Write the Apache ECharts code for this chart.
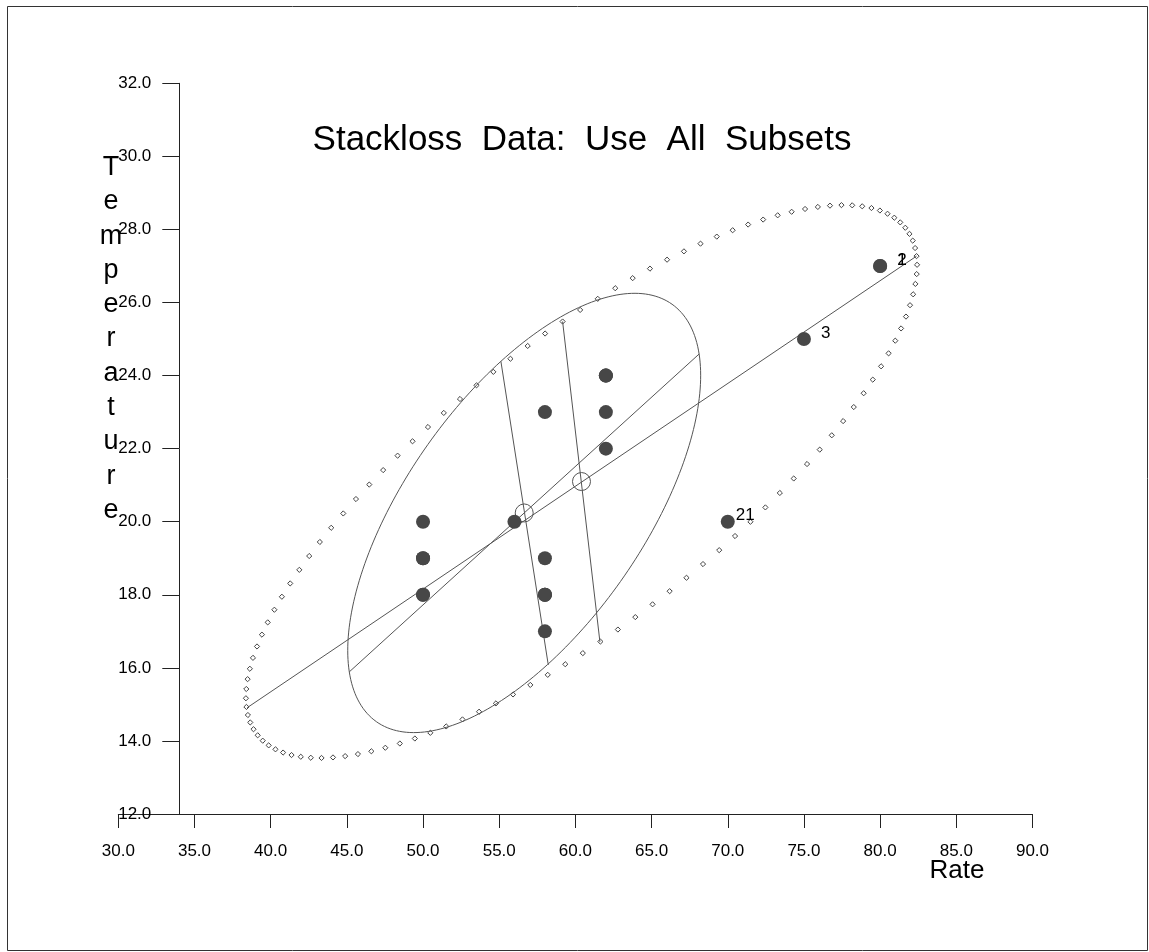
<!DOCTYPE html>
<html>
<head>
<meta charset="utf-8">
<script src="https://cdn.jsdelivr.net/npm/echarts@6/dist/echarts.min.js"></script>
<style>
  html, body { margin: 0; padding: 0; background: #fff; }
  #chart { width: 1149px; height: 952px; }
</style>
</head>
<body>
<div id="chart"></div>
<script>
// stackloss observations (Rate = air flow, Temperature = water temp)
const rate = [80, 80, 75, 62, 62, 62, 62, 62, 58, 58, 58, 58, 58, 58, 50, 50, 50, 50, 50, 56, 70];
const temperature = [27, 27, 25, 24, 22, 23, 24, 24, 23, 18, 18, 17, 18, 19, 18, 18, 19, 19, 20, 20, 20];
const obsLabels = ['1', '2', '3', '', '', '', '', '', '', '', '', '', '', '', '', '', '', '', '', '', '21'];

const xTicks = [30, 35, 40, 45, 50, 55, 60, 65, 70, 75, 80, 85, 90];
const yTicks = [12, 14, 16, 18, 20, 22, 24, 26, 28, 30, 32];

// outer (dotted) ellipse: center + principal axis end points
const outerCenter = [60.4, 21.1];
const outerMajor = [[38.46, 14.91], [82.39, 27.27]];
const outerMinor = [[59.16, 25.48], [61.61, 16.71]];

// inner (solid) ellipse: center + principal axis end points
const innerCenter = [56.64, 20.24];
const innerMajor = [[45.16, 15.89], [68.12, 24.59]];
const innerMinor = [[55.11, 24.39], [58.22, 16.08]];

const FONT = '"Liberation Sans", Arial, sans-serif';
const chart = echarts.init(document.getElementById('chart'));

function semiAxes(c, major, minor) {
  return {
    a: [major[1][0] - c[0], major[1][1] - c[1]],
    b: [minor[0][0] - c[0], minor[0][1] - c[1]]
  };
}
function ellipseAt(t, c, ax) {
  return [
    c[0] + ax.a[0] * Math.cos(t) + ax.b[0] * Math.sin(t),
    c[1] + ax.a[1] * Math.cos(t) + ax.b[1] * Math.sin(t)
  ];
}

// outer ellipse drawn as small hollow diamonds
function renderDotted(params, api) {
  const ax = semiAxes(outerCenter, outerMajor, outerMinor);
  const n = 120, r = 2.6;
  const children = [];
  for (let k = 0; k < n; k++) {
    const p = api.coord(ellipseAt(2 * Math.PI * k / n, outerCenter, ax));
    children.push({
      type: 'polygon',
      shape: { points: [[p[0], p[1] - r], [p[0] + r, p[1]], [p[0], p[1] + r], [p[0] - r, p[1]]] },
      style: { fill: '#fff', stroke: '#444', lineWidth: 1 }
    });
  }
  return { type: 'group', children: children };
}

// inner ellipse as a solid outline
function renderSolid(params, api) {
  const ax = semiAxes(innerCenter, innerMajor, innerMinor);
  const pts = [];
  for (let k = 0; k < 240; k++) {
    pts.push(api.coord(ellipseAt(2 * Math.PI * k / 240, innerCenter, ax)));
  }
  return {
    type: 'polygon',
    shape: { points: pts },
    style: { fill: 'none', stroke: '#555', lineWidth: 1 }
  };
}

function segment(ends) {
  return {
    type: 'line',
    data: ends,
    symbol: 'none',
    silent: true,
    lineStyle: { color: '#555', width: 1 },
    z: 3
  };
}

// label tweaks per observation label
const labelDistance = { '1': 10, '2': 10, '3': 10, '21': 1 };

const pointData = rate.map(function (x, i) {
  const lab = obsLabels[i];
  return {
    value: [x, temperature[i]],
    label: lab ? { show: true, formatter: lab, distance: labelDistance[lab] } : { show: false }
  };
});

const option = {
  animation: false,
  backgroundColor: '#fff',
  grid: { left: 118.3, right: 116.5, top: 83.3, bottom: 138 },
  xAxis: {
    type: 'value',
    min: xTicks[0],
    max: xTicks[xTicks.length - 1],
    interval: xTicks[1] - xTicks[0],
    axisLine: { lineStyle: { color: '#222', width: 1 } },
    axisTick: { length: 14, lineStyle: { color: '#222' } },
    splitLine: { show: false },
    axisLabel: {
      color: '#000', fontSize: 17, fontFamily: FONT, margin: 29,
      formatter: function (v) { return v.toFixed(1); }
    }
  },
  yAxis: {
    type: 'value',
    min: yTicks[0],
    max: yTicks[yTicks.length - 1],
    interval: yTicks[1] - yTicks[0],
    offset: -61,
    axisLine: { show: true, lineStyle: { color: '#222', width: 1 } },
    axisTick: { show: true, length: 17, lineStyle: { color: '#222' } },
    splitLine: { show: false },
    axisLabel: {
      color: '#000', fontSize: 17, fontFamily: FONT, margin: 28,
      padding: [6, 0, 0, 0],
      formatter: function (v) { return v.toFixed(1); }
    }
  },
  graphic: [
    {
      type: 'rect', silent: true,
      shape: { x: 7.5, y: 6.5, width: 1140, height: 944 },
      style: { fill: 'none', stroke: '#333', lineWidth: 1 }
    },
    {
      type: 'text', x: 582, y: 140,
      style: {
        text: 'Stackloss  Data:  Use  All  Subsets',
        font: '35px ' + FONT, fill: '#000',
        textAlign: 'center', textVerticalAlign: 'middle'
      }
    },
    {
      type: 'text', x: 111, y: 339,
      style: {
        text: 'Temperature'.split('').join('\n'),
        font: '27px ' + FONT, fill: '#000', lineHeight: 34.3,
        textAlign: 'center', textVerticalAlign: 'middle'
      }
    },
    {
      type: 'text', x: 957, y: 871,
      style: {
        text: 'Rate', font: '26px ' + FONT, fill: '#000',
        textAlign: 'center', textVerticalAlign: 'middle'
      }
    }
  ],
  series: [
    {
      type: 'custom',
      renderItem: renderDotted,
      data: [outerCenter],
      encode: { x: 0, y: 1 },
      silent: true,
      z: 2
    },
    {
      type: 'custom',
      renderItem: renderSolid,
      data: [innerCenter],
      encode: { x: 0, y: 1 },
      silent: true,
      z: 2
    },
    segment(outerMajor),
    segment(outerMinor),
    segment(innerMajor),
    segment(innerMinor),
    {
      type: 'scatter',
      data: [innerCenter, outerCenter],
      symbol: 'circle',
      symbolSize: 18,
      itemStyle: { color: 'rgba(0,0,0,0)', borderColor: '#555', borderWidth: 1, opacity: 1 },
      z: 4
    },
    {
      type: 'scatter',
      data: pointData,
      symbol: 'circle',
      symbolSize: 14,
      itemStyle: { color: '#474747', opacity: 1 },
      label: {
        position: 'right', offset: [0, -6],
        color: '#000', fontSize: 17, fontFamily: FONT
      },
      z: 5
    }
  ]
};

chart.setOption(option);
window.onresize = chart.resize;
</script>
</body>
</html>
